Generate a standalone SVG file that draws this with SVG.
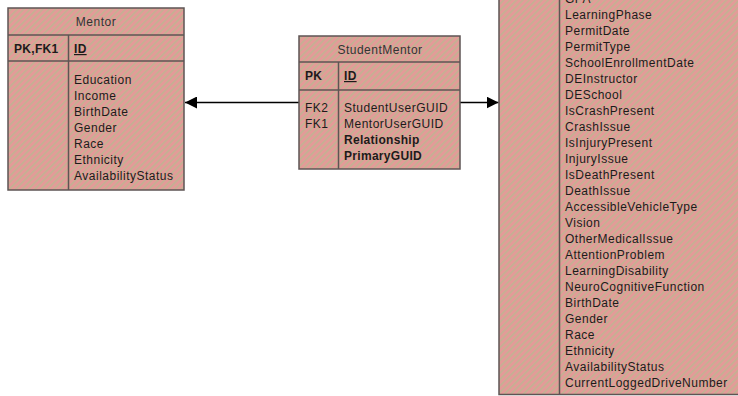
<svg xmlns="http://www.w3.org/2000/svg" width="738" height="396" viewBox="0 0 738 396">
  <defs>
    <pattern id="hatch" width="4.5" height="4.5" patternUnits="userSpaceOnUse" patternTransform="rotate(45)">
      <rect width="4.5" height="4.5" fill="#E39B98"/>
      <rect width="1.6" height="4.5" fill="#C2B292"/>
    </pattern>
    <marker id="arrow" viewBox="0 0 12 12" refX="12" refY="6" markerWidth="12" markerHeight="12" markerUnits="userSpaceOnUse" orient="auto">
      <path d="M0,0 L12,6 L0,12 Z" fill="#000"/>
    </marker>
  </defs>
  <style>
    .box { fill: url(#hatch); stroke: #5E5454; stroke-width: 1.5; }
    .sep { stroke: #5E5454; stroke-width: 1.5; fill: none; }
    .t { font-family: "Liberation Sans", Arial, sans-serif; font-size: 12px; letter-spacing: 0.5px; fill: #1E1A1A; }
    .title { text-anchor: middle; fill: #333; }
    .b { font-weight: bold; letter-spacing: 0.3px; }
    .u { text-decoration: underline; }
    .conn { stroke: #000; stroke-width: 1.5; fill: none; marker-end: url(#arrow); }
  </style>

  <g id="connectors">
    <line class="conn" x1="299" y1="102.5" x2="185" y2="102.5"/>
    <line class="conn" x1="460" y1="102.5" x2="498.5" y2="102.5"/>
  </g>

  <g id="Mentor">
    <rect class="box" x="8" y="8" width="176" height="182"/>
    <line class="sep" x1="8" y1="35" x2="184" y2="35"/>
    <line class="sep" x1="8" y1="61" x2="184" y2="61"/>
    <line class="sep" x1="68.5" y1="35" x2="68.5" y2="190"/>
    <text class="t title" x="96" y="26">Mentor</text>
    <text class="t b" x="14" y="53">PK,FK1</text>
    <text class="t b u" x="74" y="53">ID</text>
    <text class="t" x="74" y="84">Education</text>
    <text class="t" x="74" y="100">Income</text>
    <text class="t" x="74" y="116">BirthDate</text>
    <text class="t" x="74" y="132">Gender</text>
    <text class="t" x="74" y="148">Race</text>
    <text class="t" x="74" y="164">Ethnicity</text>
    <text class="t" x="74" y="180">AvailabilityStatus</text>
  </g>

  <g id="StudentMentor">
    <rect class="box" x="299" y="36" width="161" height="133"/>
    <line class="sep" x1="299" y1="62" x2="460" y2="62"/>
    <line class="sep" x1="299" y1="90" x2="460" y2="90"/>
    <line class="sep" x1="338.5" y1="62" x2="338.5" y2="169"/>
    <text class="t title" x="380" y="54">StudentMentor</text>
    <text class="t b" x="305" y="80">PK</text>
    <text class="t b u" x="344" y="80">ID</text>
    <text class="t" x="305" y="112">FK2</text>
    <text class="t" x="305" y="128">FK1</text>
    <text class="t" x="344" y="112">StudentUserGUID</text>
    <text class="t" x="344" y="128">MentorUserGUID</text>
    <text class="t b" x="344" y="144">Relationship</text>
    <text class="t b" x="344" y="160">PrimaryGUID</text>
  </g>

  <g id="Student">
    <rect class="box" x="499" y="-20" width="260" height="414.5"/>
    <line class="sep" x1="559.5" y1="-20" x2="559.5" y2="394.5"/>
    <text class="t" x="565" y="3">GPA</text>
    <text class="t" x="565" y="19">LearningPhase</text>
    <text class="t" x="565" y="35">PermitDate</text>
    <text class="t" x="565" y="51">PermitType</text>
    <text class="t" x="565" y="67">SchoolEnrollmentDate</text>
    <text class="t" x="565" y="83">DEInstructor</text>
    <text class="t" x="565" y="99">DESchool</text>
    <text class="t" x="565" y="115">IsCrashPresent</text>
    <text class="t" x="565" y="131">CrashIssue</text>
    <text class="t" x="565" y="147">IsInjuryPresent</text>
    <text class="t" x="565" y="163">InjuryIssue</text>
    <text class="t" x="565" y="179">IsDeathPresent</text>
    <text class="t" x="565" y="195">DeathIssue</text>
    <text class="t" x="565" y="211">AccessibleVehicleType</text>
    <text class="t" x="565" y="227">Vision</text>
    <text class="t" x="565" y="243">OtherMedicalIssue</text>
    <text class="t" x="565" y="259">AttentionProblem</text>
    <text class="t" x="565" y="275">LearningDisability</text>
    <text class="t" x="565" y="291">NeuroCognitiveFunction</text>
    <text class="t" x="565" y="307">BirthDate</text>
    <text class="t" x="565" y="323">Gender</text>
    <text class="t" x="565" y="339">Race</text>
    <text class="t" x="565" y="355">Ethnicity</text>
    <text class="t" x="565" y="371">AvailabilityStatus</text>
    <text class="t" x="565" y="387">CurrentLoggedDriveNumber</text>
  </g>
</svg>
